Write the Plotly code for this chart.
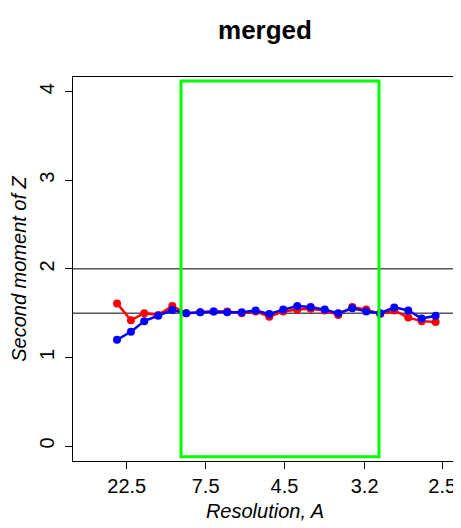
import plotly.graph_objects as go

# x = 1/d (inverse resolution, 1/A)
s = [0.0335, 0.0492, 0.0642, 0.0800, 0.0958, 0.1115, 0.1273, 0.1424, 0.1577, 0.1740,
     0.1897, 0.2051, 0.2208, 0.2366, 0.2517, 0.2675, 0.2828, 0.2986, 0.3143, 0.3301,
     0.3459, 0.3617, 0.3768, 0.3925]
red = [1.61, 1.42, 1.50, 1.48, 1.58, 1.50, 1.51, 1.52, 1.52, 1.50,
       1.52, 1.46, 1.52, 1.54, 1.55, 1.53, 1.48, 1.57, 1.54, 1.49,
       1.53, 1.45, 1.41, 1.40]
blue = [1.20, 1.29, 1.41, 1.47, 1.535, 1.50, 1.51, 1.52, 1.51, 1.51,
        1.53, 1.49, 1.54, 1.58, 1.57, 1.54, 1.50, 1.555, 1.52, 1.50,
        1.565, 1.53, 1.44, 1.47]
tick_res = ["22.5", "7.5", "4.5", "3.2", "2.5"]
y_ticks = [0, 1, 2, 3, 4]
ref_lines = [2.0, 1.5]
box_x = [0.1056, 0.3287]
box_y = [-0.12, 4.12]

font = "Liberation Sans, Arial, Helvetica, sans-serif"
OFF = 8  # default page body margin in the browser

fig = go.Figure()
fig.add_trace(go.Scatter(x=s, y=red, mode="lines+markers",
                         line=dict(color="#ff0000", width=2.5),
                         marker=dict(color="#ff0000", size=8), showlegend=False))
fig.add_trace(go.Scatter(x=s, y=blue, mode="lines+markers",
                         line=dict(color="#0000ff", width=2.5),
                         marker=dict(color="#0000ff", size=8), showlegend=False))

for yv in ref_lines:
    fig.add_shape(type="line", xref="paper", x0=0, x1=1, yref="y", y0=yv, y1=yv,
                  line=dict(color="black", width=1), layer="below")
fig.add_shape(type="rect", xref="x", yref="y", x0=box_x[0], x1=box_x[1],
              y0=box_y[0], y1=box_y[1], line=dict(color="#00ff00", width=3),
              fillcolor="rgba(0,0,0,0)", layer="above")

W, H = 461 - OFF, 528 - OFF
fig.update_layout(
    width=W, height=H,
    margin=dict(l=73 - OFF, r=4, t=77 - OFF, b=67, autoexpand=False),
    paper_bgcolor="white", plot_bgcolor="white",
    font=dict(family=font, size=20, color="black"),
    title=dict(text="<b>merged</b>", x=(265 - OFF) / W, xanchor="center",
               y=1 - (30 - OFF) / H, yanchor="middle", font=dict(size=26, family=font)),
    xaxis=dict(range=[-0.0161, 0.4166], tickvals=[1 / float(t) for t in tick_res],
               ticktext=tick_res, ticks="outside", ticklen=7, tickcolor="black",
               showline=True, linecolor="black", linewidth=1, mirror=True,
               showgrid=False, zeroline=False, automargin=False,
               tickfont=dict(size=20),
               title=dict(text="<i>Resolution, A</i>", standoff=7,
                          font=dict(size=20))),
    yaxis=dict(range=[-0.169, 4.166], tickvals=y_ticks, ticks="outside", ticklen=7,
               tickcolor="black", tickangle=-90, ticklabelstandoff=3,
               showline=True, linecolor="black", linewidth=1, mirror=True,
               showgrid=False, zeroline=False, automargin=False,
               tickfont=dict(size=20),
               title=dict(text="<i>Second moment of Z</i>", standoff=5,
                          font=dict(size=20))),
)

fig.write_html("out.html")
